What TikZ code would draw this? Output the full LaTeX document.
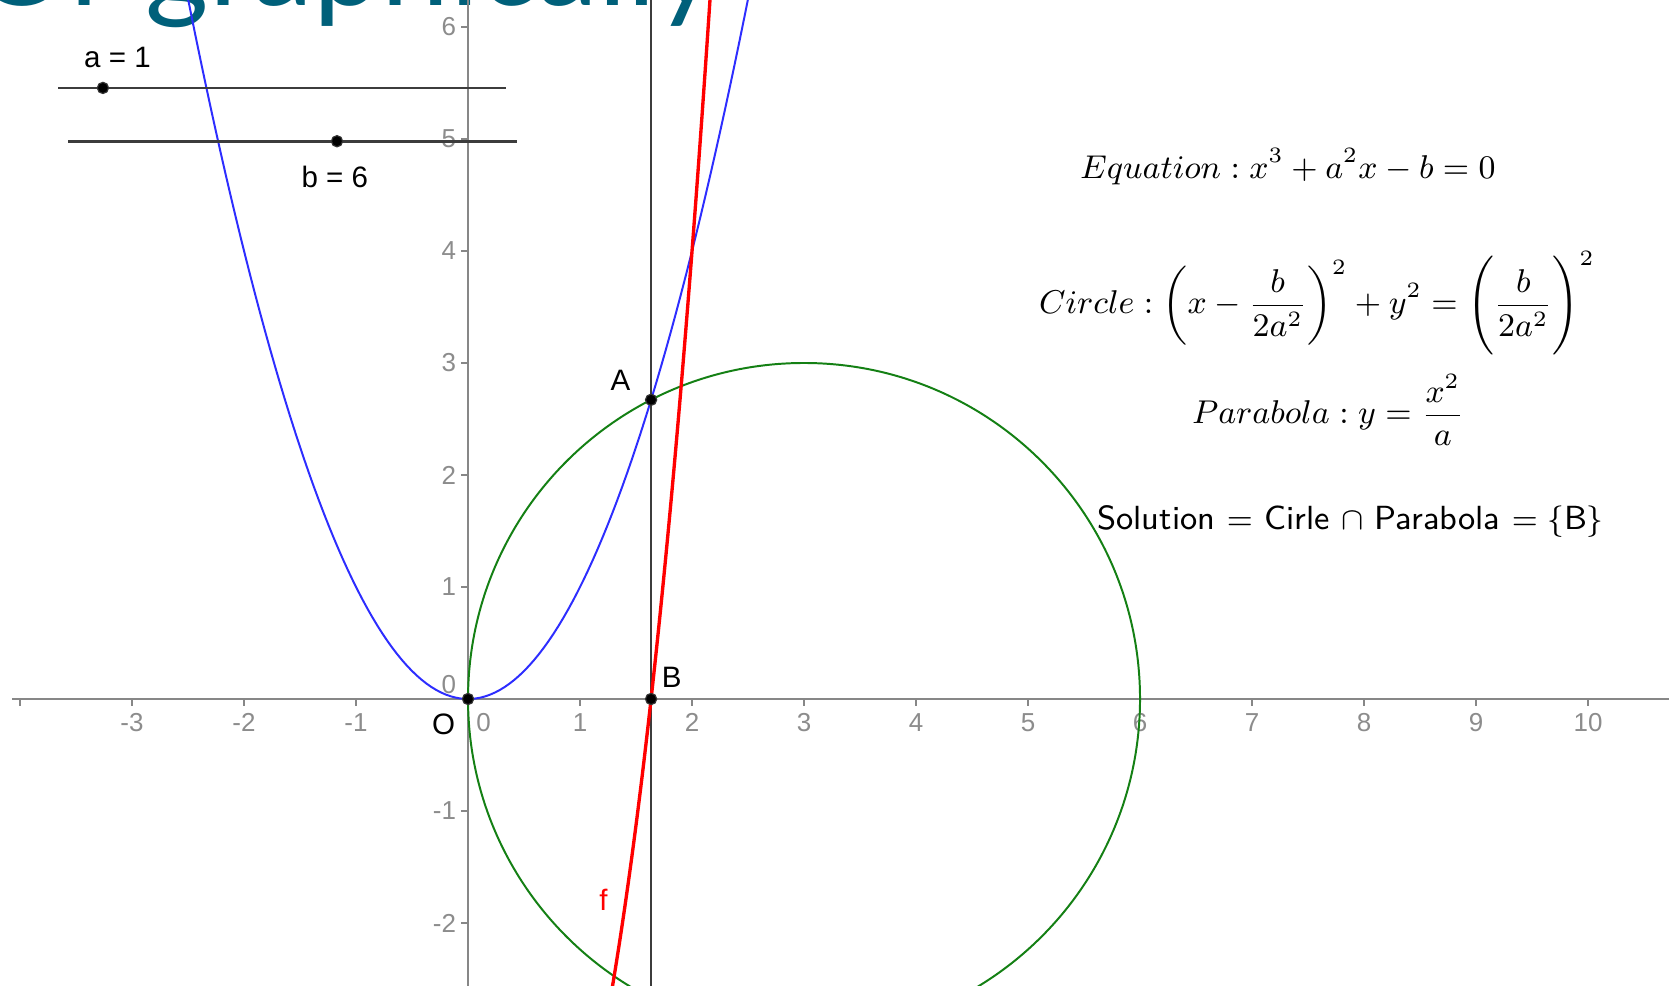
\documentclass[tikz,border=0pt]{standalone}
\usepackage{fontspec}
\usepackage{amsmath}
\usetikzlibrary{positioning, calc}
\newfontfamily\labelfont{Liberation Sans}
\newfontfamily\titlefont{Lato}
\definecolor{titleteal}{RGB}{0,96,122}
\definecolor{ggbgreen}{RGB}{20,128,20}
\definecolor{ggbblue}{RGB}{45,45,255}
\definecolor{axisgray}{RGB}{135,135,135}
\definecolor{tickgray}{RGB}{140,140,140}
\definecolor{linegray}{RGB}{60,60,60}
\newcommand{\formulabox}[1]{\scalebox{0.93}{$\displaystyle #1$}}

\begin{document}
\begin{tikzpicture}[x=1cm,y=1cm,
    axisline/.style={axisgray,line width=0.7pt},
    axtick/.style={axisgray,line width=0.5pt},
    ticklabel/.style={tickgray,font=\labelfont\fontsize{6.6}{7}\selectfont,inner sep=0pt},
    ptlabel/.style={font=\labelfont\fontsize{7.5}{9}\selectfont,inner sep=0pt},
    ptdot/.style={circle,fill=black,draw=black!80,line width=0.3pt,inner sep=0pt,minimum size=0.1cm},
    formula/.style={font=\fontsize{9}{11}\selectfont,inner sep=0pt,anchor=base},
    slider/.style={linegray,line width=0.65pt}]
    % Frame
    \coordinate (bl) at (-4.179,-2.554);
    \coordinate (tr) at (10.723,6.241);
    \useasboundingbox (bl) rectangle (tr);
    \clip (bl) rectangle (tr);
    \fill[white] (bl) rectangle (tr);

    % Title (cut by the frame)
    \node[anchor=base west,inner sep=0pt,text=titleteal,font=\titlefont\fontsize{31}{34}\selectfont] (title) at (-4.42,6.19) {Or graphically};

    % Axes
    \coordinate (xl) at (-4.07,0);
    \coordinate (xr) at (10.72,0);
    \coordinate (yb) at (0,-2.56);
    \coordinate (yt) at (0,6.25);
    \draw[axisline] (xl) -- (xr);
    \draw[axisline] (yb) -- (yt);
    \foreach \x in {-4,...,10}
        \draw[axtick] (\x,0) -- (\x,-0.06);
    \foreach \x in {-3,-2,-1,1,2,3,4,5,6,7,8,9,10}
        \node[ticklabel] at (\x,-0.21) {\x};
    \node[ticklabel] at (0.14,-0.21) {0};
    \foreach \y in {-2,-1,1,2,3,4,5,6} {
        \draw[axtick] (0,\y) -- (-0.06,\y);
        \node[ticklabel,anchor=east] at (-0.1,\y) {\y};
    }
    \node[ticklabel,anchor=east] at (-0.1,0.13) {0};

    % Curves
    \draw[ggbgreen,line width=0.5pt] (3,0) circle (3);
    \draw[ggbblue,line width=0.5pt,domain=-2.6:2.6,samples=120] plot (\x,{\x*\x});
    \draw[linegray,line width=0.65pt] (1.6344,-2.56) -- (1.6344,6.25);
    \draw[red,line width=0.85pt,domain=1.25:2.2,samples=60] plot (\x,{\x*\x*\x+\x-6});
    \node[ptlabel,text=red] (flabel) at (1.21,-1.79) {f};

    % Points
    \node[ptdot] (O) at (0,0) {};
    \node[ptdot] (A) at (1.6344,2.6713) {};
    \node[ptdot] (B) at (1.6344,0) {};
    \node[ptlabel,above left=0.04cm and 0.14cm of A] (labA) {A};
    \node[ptlabel,above right=0.06cm and 0.05cm of B] (labB) {B};
    \node[ptlabel,below left=0.09cm and 0.07cm of O] (labO) {O};

    % Sliders
    \coordinate (a0) at (-3.66,5.456);
    \coordinate (a1) at (0.34,5.456);
    \draw[slider] (a0) -- (a1);
    \node[ptdot] (apt) at (-3.26,5.456) {};
    \node[ptlabel,above=0.12cm of apt,xshift=0.13cm] (alabel) {a = 1};
    \coordinate (b0) at (-3.57,4.98);
    \coordinate (b1) at (0.44,4.98);
    \draw[slider] (b0) -- (b1);
    \node[ptdot] (bpt) at (-1.17,4.98) {};
    \node[ptlabel,below=0.16cm of bpt,xshift=-0.02cm] (blabel) {b = 6};

    % Formulas
    \node[formula] (eqn) at (7.32,4.65) {\formulabox{Equation : x^3+a^2x-b=0}};
    \node[formula] (circ) at (7.58,3.44) {\formulabox{Circle : \left(x-\frac{b}{2a^2}\right)^2+y^2=\Biggl(\frac{b}{2a^2}\Biggr)^2}};
    \node[formula] (parab) at (7.68,2.46) {\formulabox{Parabola : y=\frac{x^2}{a}}};
    \node[formula,font=\sffamily\fontsize{8.5}{11}\selectfont] (sol) at (7.88,1.51) {Solution $=$ Cirle $\cap$ Parabola $=\{$B$\}$};
\end{tikzpicture}
\end{document}
